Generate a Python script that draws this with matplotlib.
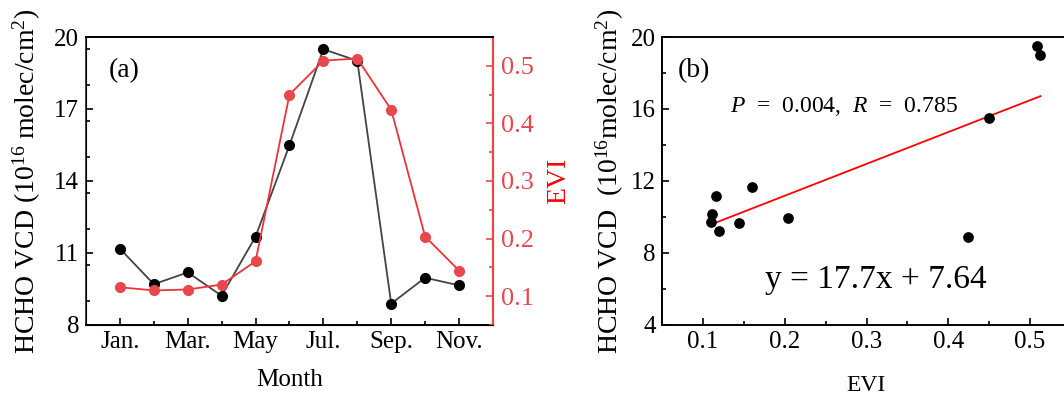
import numpy as np
import matplotlib
matplotlib.use('Agg')
import matplotlib.pyplot as plt
from matplotlib.ticker import MultipleLocator

plt.rcParams['font.family'] = ['Liberation Serif', 'DejaVu Serif']
plt.rcParams['mathtext.fontset'] = 'custom'
plt.rcParams['mathtext.rm'] = 'Liberation Serif'
plt.rcParams['mathtext.it'] = 'Liberation Serif:italic'

# monthly data, Jan. to Nov.
months = [1, 2, 3, 4, 5, 6, 7, 8, 9, 10, 11]
month_labels = ['Jan.', 'Mar.', 'May', 'Jul.', 'Sep.', 'Nov.']
hcho = [11.18, 9.70, 10.19, 9.22, 11.68, 15.49, 19.49, 19.01, 8.89, 9.97, 9.65]
evi = [0.1155, 0.110, 0.1116, 0.1202, 0.1606, 0.450, 0.509, 0.5126, 0.4237, 0.2035, 0.1445]

# linear fit shown in panel (b)
slope = 17.7
intercept = 7.64
p_value = 0.004
r_value = 0.785

red_axis = '#e8474c'
red_line = '#ee3338'

fig = plt.figure(figsize=(10.64, 3.97), dpi=100)

# ---- panel (a) ----
ax1 = fig.add_axes([0.0808, 0.1814, 0.3825, 0.7254])
ax1.plot(months, hcho, '-o', color='#444444', markerfacecolor='black',
         markeredgecolor='black', markersize=7, linewidth=1.3)
ax1.set_xlim(0, 12)
ax1.set_ylim(8, 20)
ax1.set_xticks([1, 3, 5, 7, 9, 11])
ax1.set_xticklabels(month_labels)
ax1.xaxis.set_minor_locator(MultipleLocator(1))
ax1.set_yticks([8, 11, 14, 17, 20])
ax1.yaxis.set_minor_locator(MultipleLocator(1.5))
ax1.tick_params(which='both', direction='in', labelsize=18, width=1.2)
ax1.tick_params(which='major', length=5)
ax1.tick_params(which='minor', length=3)
ax1.tick_params(axis='x', pad=4)
ax1.tick_params(axis='y', pad=5)
for sp in ax1.spines.values():
    sp.set_linewidth(1.4)
ax1.spines['left'].set_color('#444444')
ax1.set_xlabel('Month', fontsize=18, va='top')
ax1.xaxis.set_label_coords(0.5, -0.154)
ax1.set_ylabel(r'HCHO VCD (10$^{16}$ molec/cm$^{2}$)', fontsize=20)
ax1.yaxis.set_label_coords(-0.106, 0.5)
ax1.text(0.055, 0.862, '(a)', transform=ax1.transAxes, fontsize=20,
         ha='left', va='baseline')

ax2 = ax1.twinx()
ax2.plot(months, evi, '-o', color=red_line, markerfacecolor=red_axis,
         markeredgecolor=red_axis, markersize=7, linewidth=1.3)
ax2.set_ylim(0.05, 0.55)
ax2.set_yticks([0.1, 0.2, 0.3, 0.4, 0.5])
ax2.yaxis.set_minor_locator(MultipleLocator(0.05))
ax2.tick_params(which='both', direction='in', labelsize=19, width=1.2,
                color=red_axis, labelcolor=red_axis, pad=6)
ax2.tick_params(which='major', length=5)
ax2.tick_params(which='minor', length=3)
ax2.spines['right'].set_color(red_axis)
ax2.spines['right'].set_linewidth(1.6)
ax2.spines['top'].set_linewidth(1.4)
ax2.set_ylabel('EVI', fontsize=20, color='red')
ax2.yaxis.set_label_coords(1.131, 0.5)

# ---- panel (b) ----
ax3 = fig.add_axes([0.6222, 0.1814, 0.3844, 0.7254])
fit_x = np.array([min(evi), max(evi)])
ax3.plot(fit_x, slope * fit_x + intercept, color='red', linewidth=1.3, zorder=2)
ax3.scatter(evi, hcho, s=45, color='black', zorder=3)
ax3.set_xlim(0.05, 0.55)
ax3.set_ylim(4, 20)
ax3.set_xticks([0.1, 0.2, 0.3, 0.4, 0.5])
ax3.xaxis.set_minor_locator(MultipleLocator(0.05))
ax3.set_yticks([4, 8, 12, 16, 20])
ax3.yaxis.set_minor_locator(MultipleLocator(2))
ax3.tick_params(which='both', direction='in', labelsize=18, width=1.2,
                top=False, right=False)
ax3.tick_params(which='major', length=5)
ax3.tick_params(which='minor', length=3)
ax3.tick_params(axis='x', pad=4)
ax3.tick_params(axis='y', pad=4.5)
for sp in ax3.spines.values():
    sp.set_linewidth(1.4)
ax3.set_xlabel('EVI', fontsize=17, va='top')
ax3.xaxis.set_label_coords(0.5, -0.172)
ax3.set_ylabel(r'HCHO VCD  (10$^{16}$molec/cm$^{2}$)', fontsize=20)
ax3.yaxis.set_label_coords(-0.088, 0.5)
ax3.text(0.039, 0.862, '(b)', transform=ax3.transAxes, fontsize=20,
         ha='left', va='baseline')
ax3.text(0.166, 0.741, r'$P$  =  %.3f,  $R$  =  %.3f' % (p_value, r_value),
         transform=ax3.transAxes, fontsize=17, ha='left', va='baseline')
ax3.text(0.252, 0.128, 'y = %.1fx + %.2f' % (slope, intercept),
         transform=ax3.transAxes, fontsize=24, ha='left', va='baseline')

fig.savefig('out.png', dpi=100)
